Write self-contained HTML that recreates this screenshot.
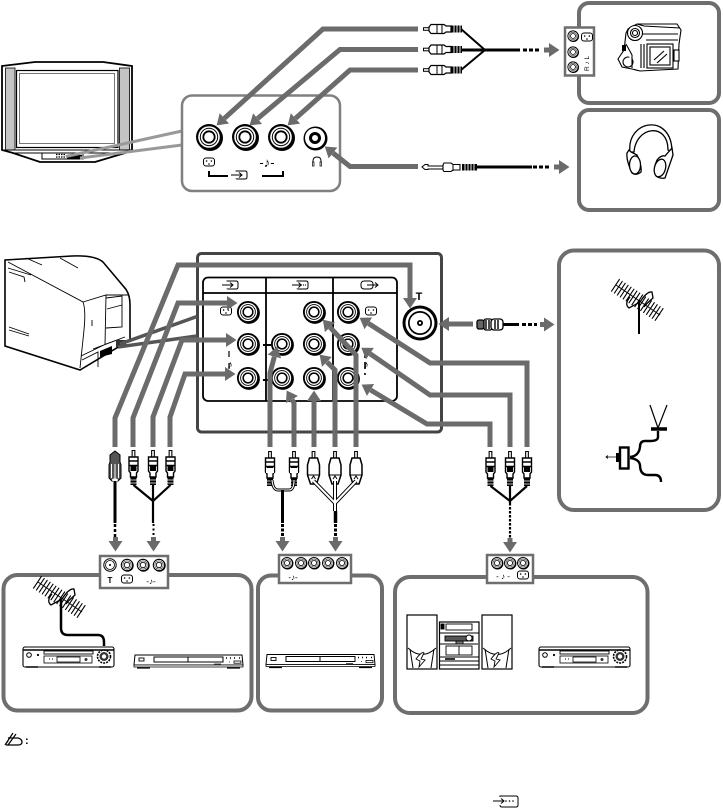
<!DOCTYPE html>
<html><head><meta charset="utf-8"><style>
html,body{margin:0;padding:0;background:#fff}
svg{display:block}
text{font-family:"Liberation Sans","DejaVu Sans",sans-serif}
.g{fill:none;stroke:#6b6b6b;stroke-width:5;marker-end:url(#h)}
.p{fill:#fff;stroke:#6e6e6e;stroke-width:4}
.k{fill:none;stroke:#000;stroke-width:2}
</style></head><body>
<svg width="723" height="809" viewBox="0 0 723 809" xmlns="http://www.w3.org/2000/svg">
<defs>
<marker id="h" markerUnits="userSpaceOnUse" markerWidth="12" markerHeight="16" refX="0" refY="8" orient="auto"><path d="M0,1L10.5,8L0,15z" fill="#6b6b6b"/></marker>
<g id="j"><circle cx="1" cy="1" r="13" fill="#000"/><circle r="13" fill="#000"/><circle r="10.8" fill="#fff"/><circle r="9.2" fill="#000"/><circle r="8.2" fill="#fff"/><circle r="6.6" fill="#000"/><circle r="4.8" fill="#fff"/></g>
<g id="c"><rect x="-5.5" y="-4" width="11" height="8" rx="2.5" fill="#fff" stroke="#000" stroke-width="1"/><circle cx="-2.4" cy="-1" r=".8"/><circle cx="2.4" cy="-1" r=".8"/><circle cx="0" cy="2" r=".8"/></g>
<g id="i" fill="none" stroke="#000" stroke-width="1"><path d="M-8,0H3M0,-2.5L3,0L0,2.5"/><path d="M-3,-3.5V-4H6Q8,-4 8,-2V2Q8,4 6,4H-1Q-3,4 -3,3.5"/></g>
<g id="rh"><path d="M0,0H6" stroke="#000" stroke-width="3.6"/><path d="M1,0H6" stroke="#fff" stroke-width="1.6"/><path d="M8,-4.5H21L23,-3H28V3H23L21,4.5H8L6,2V-2z" fill="#fff" stroke="#000" stroke-width="1.2"/><path d="M14,-4.5V4.5M19,-4.5V4.5" stroke="#000" stroke-width="1"/><rect x="28" y="-3.5" width="11" height="7" fill="#000"/><path d="M31,-3.5V3.5M34,-3.5V3.5M37,-3.5V3.5" stroke="#fff" stroke-width=".9"/></g>
<g id="rv"><path d="M0,0V7" stroke="#000" stroke-width="3.8"/><path d="M0,1V7" stroke="#fff" stroke-width="1.6"/><path d="M-4.5,7H4.5V21L3,23V27H-3V23L-4.5,21z" fill="#fff" stroke="#000" stroke-width="1.4"/><path d="M-4.5,11H4.5M-4.5,15.5H4.5" stroke="#000" stroke-width="1.4"/><rect x="-3" y="16" width="6" height="5" fill="#000"/><rect x="-3" y="27" width="6" height="8" fill="#000"/><path d="M-3,30H3M-3,33H3" stroke="#fff" stroke-width=".8"/></g>
<g id="rw"><path d="M0,0V7" stroke="#000" stroke-width="3.8"/><path d="M0,1V7" stroke="#fff" stroke-width="1.6"/><path d="M-4,7H4L6,14V24L3,33H-3L-6,24V14z" fill="#fff" stroke="#000" stroke-width="1.5"/><path d="M-6,24H6M-2,28L0,25L2,28" stroke="#000" stroke-width="1" fill="none"/></g>
<g id="y"><line x1="-23" y1="-15" x2="22" y2="15" stroke="#000" stroke-width="15" stroke-dasharray="1.100 2.400"/><path d="M-22,-15L22,15" stroke="#000" stroke-width="1"/><path d="M-8,-3Q-14,4 -9,8L2,2Q9,-9 14,-8L15,-2Q8,4 6,7" fill="none" stroke="#000" stroke-width="1.300"/></g>
<g id="vcr"><rect x="0" y="1" width="91" height="20" rx="2" fill="#fff" stroke="#000" stroke-width="1.100"/><path d="M0,4H91" stroke="#000" stroke-width="1.600"/><rect x="21" y="5" width="49" height="3" fill="#fff" stroke="#000" stroke-width=".9"/><rect x="21" y="10" width="48" height="7" fill="#fff" stroke="#000" stroke-width=".8"/><rect x="34" y="11" width="23" height="5" fill="#fff" stroke="#000" stroke-width=".8"/><circle cx="6" cy="9" r="2.300" fill="none" stroke="#000"/><circle cx="15" cy="9" r="1.100"/><circle cx="81" cy="10.500" r="6.500" fill="none" stroke="#000" stroke-width="1.600" stroke-dasharray="2 1"/><circle cx="81" cy="10.500" r="4.500" fill="#333"/><circle cx="81" cy="10.500" r="2.200" fill="#fff"/><circle cx="63" cy="13.500" r="1.500" fill="#333"/><path d="M26,13h1M29,13h1" stroke="#000"/><path d="M3,21h12M76,21h12" stroke="#000" stroke-width="1.400"/></g>
<g id="dvd"><path d="M1,0H108L109,10H0z" fill="#fff" stroke="#000" stroke-width="1"/><path d="M0,10H109V12H0z" fill="#fff" stroke="#000" stroke-width=".8"/><rect x="20" y="2" width="69" height="5" fill="#fff" stroke="#000" stroke-width="1"/><path d="M20,7H89M54,2V7" stroke="#000" stroke-width="1"/><rect x="5" y="3" width="5" height="3" fill="none" stroke="#000" stroke-width=".9"/><path d="M92,3h1M96,3h1M100,3h1M105,3h1" stroke="#000" stroke-width="1.600"/><rect x="100" y="6" width="7" height="2.200" fill="none" stroke="#000" stroke-width=".8"/><path d="M80,9h7M95,7h1" stroke="#555"/><path d="M3,13h13M93,13h13" stroke="#000" stroke-width="1.300"/></g>
<g id="sp"><rect x="0" y="0" width="30" height="54" fill="#fff" stroke="#000" stroke-width="1.200"/><path d="M1,33Q15,46 29,33M3,34L6,53M27,34L24,53" fill="none" stroke="#000"/><path d="M9,44Q15,36 17,38L14,44L18,45L12,52L13,46z" fill="#fff" stroke="#000" stroke-width=".9"/></g>
</defs>

<!-- Front TV -->
<path d="M2,66L35,62H103L132,66V150L125,153L95,162H40L13,153L2,150z" fill="#fff" stroke="#000" stroke-width="1.800"/>
<rect x="5.500" y="68" width="9.500" height="82" fill="#c4c4c4" stroke="#000" stroke-width=".8"/>
<rect x="119.500" y="68" width="10" height="82" fill="#c4c4c4" stroke="#000" stroke-width=".8"/>
<rect x="16.500" y="70.500" width="101.500" height="77" fill="#fff" stroke="#000" stroke-width="1.200"/>
<rect x="19.500" y="73.500" width="95" height="70" fill="#fff" stroke="#555" stroke-width=".8"/>
<path d="M3,150L132,150M13,153H125" stroke="#000" stroke-width="1"/>
<rect x="42" y="153" width="41" height="6" fill="#fff" stroke="#000" stroke-width="1"/><rect x="67" y="155" width="15" height="4"/><path d="M56,154.500h10M56,157h10" stroke="#000" stroke-width="1.200" stroke-dasharray="1.500 1"/>
<path d="M66,156.500L182,131M80,158L182,145" stroke="#999" stroke-width="3" fill="none"/>

<!-- Front panel -->
<rect x="182" y="95.500" width="158" height="95.500" rx="10" fill="#fff" stroke="#808080" stroke-width="2.500"/>
<use href="#j" x="209" y="137"/><use href="#j" x="245" y="137"/><use href="#j" x="281" y="137"/>
<circle cx="315.500" cy="138.500" r="12" fill="#000"/><circle cx="315" cy="138" r="10" fill="#fff"/><circle cx="315" cy="138" r="6" fill="#000"/><circle cx="315" cy="138" r="3" fill="#fff"/>
<use href="#c" x="209" y="162"/>
<text x="267" y="167" font-size="13" text-anchor="middle" font-family="DejaVu Sans">‑♪‑</text>
<path d="M313,166V161Q313,157 317,157Q321,157 321,161V166" fill="none" stroke="#000"/><path d="M312.500,162h1.500v4h-1.500zM320,162h1.500v4h-1.500z" fill="#fff" stroke="#000" stroke-width=".7"/>
<path d="M209,171V176H228M262,176H283V171" class="k"/>
<use href="#i" x="239" y="175"/>

<!-- Top cables -->
<use href="#rh" x="423" y="29"/><use href="#rh" x="423" y="49.500"/><use href="#rh" x="423" y="70"/>
<path d="M461,29L485,50L461,70" fill="none" stroke="#000" stroke-width="2"/>
<path d="M461,50H520" stroke="#000" stroke-width="3"/>
<path d="M523,50H539" stroke="#000" stroke-width="3" stroke-dasharray="4 2"/>
<!-- phone plug -->
<path d="M422,167L425,164.500H428V166H443V169H428V169.500H425z" fill="#fff" stroke="#000" stroke-width="1"/>
<path d="M444,163H451L453,164.500H460V170H453L451,171.500H444L443,170V165z" fill="#fff" stroke="#000" stroke-width="1.100"/>
<path d="M453,164V171" stroke="#000"/>
<rect x="462" y="164" width="15" height="6.500"/><path d="M465,164V170.500M468,164V170.500M471,164V170.500M474,164V170.500" stroke="#fff" stroke-width=".9"/>
<path d="M477,167H532" stroke="#000" stroke-width="3"/>
<path d="M533,167H549" stroke="#000" stroke-width="3" stroke-dasharray="4 2"/>
<line x1="544" y1="50" x2="549" y2="50" class="g"/>
<line x1="554" y1="167" x2="559" y2="167" class="g"/>

<!-- Top right panels -->
<rect x="579" y="3" width="140" height="100" rx="10" class="p"/>
<rect x="579" y="110" width="140" height="100" rx="10" class="p"/>
<rect x="565" y="27.500" width="29" height="48" fill="#fff" stroke="#6e6e6e" stroke-width="2.500"/>
<g transform="translate(573,36) scale(.43)"><use href="#j"/></g><g transform="translate(573,52) scale(.43)"><use href="#j"/></g><g transform="translate(573,67) scale(.43)"><use href="#j"/></g>
<use href="#c" x="587" y="37"/>
<text transform="translate(589,71) rotate(-90)" font-size="6.500" font-family="DejaVu Sans">R ♪ L</text>

<!-- Camcorder -->
<g fill="#fff" stroke="#000" stroke-width="1.100">
<path d="M628,29L637,24H677L681,30L679,44L678,69L640,71L632,69L622,67L618,59L624,50L625,42L626,33z"/>
<circle cx="635" cy="33" r="7.500"/><circle cx="635" cy="33" r="4.500"/><circle cx="635" cy="33" r="2.500"/>
<path d="M644,26L680,28M642,34H678M646,40H678M637,24L644,26"/>
<rect x="647" y="44" width="26" height="24"/><rect x="650" y="47" width="20" height="18"/>
<path d="M654,60L664,51M657,63L667,54"/>
<rect x="674" y="50" width="5" height="11"/>
<circle cx="628" cy="62" r="5"/>
<path d="M641,44V68M644,44V68M626,44L632,55V68"/>
</g>
<rect x="622" y="45" width="4" height="6"/>

<!-- Headphones -->
<g fill="#fff" stroke="#000" stroke-width="1.300">
<path d="M630,152C626,120 672,112 672,152L668,150C668,122 636,126 634,152z"/>
<path d="M629,150L631,152L637,155Q642,166 641,172Q636,176 632,173Q626,160 627,153z"/>
<ellipse cx="635" cy="165" rx="5.500" ry="9"/>
<path d="M672,148L673,155L665,178Q660,179 656,176Q653,168 657,160Q661,155 665,156z"/>
<ellipse cx="660" cy="168" rx="5.500" ry="9" transform="rotate(15 660 168)"/>
</g>

<!-- Gray arrows top -->
<polyline class="g" points="418,29 323,29 224.400,118.300"/>
<polyline class="g" points="418,49.500 340,49.500 257.600,118.600"/>
<polyline class="g" points="418,70 350,70 295.500,118.400"/>
<polyline class="g" points="418,166.500 350,166.500 333,153"/>

<!-- Rear TV -->
<path d="M5,260L72,256Q95,255 103,262L124,287Q130,293 130,305V340L80,370L5,346z" fill="#fff" stroke="#000" stroke-width="1.600"/>
<g fill="none" stroke="#000" stroke-width=".9">
<path d="M8,262L83,302Q86,310 84,330L80,368M83,302L106,295H128M106,295L105,345M8,268L31,275M9,272L24,277L25,282M9,327L29,334M9,330L29,336M26,258L42,265M60,258L78,268M106,298L122,296L122,327L106,328M107,309L122,305M92,320V326"/>
<path d="M81,356L106,344L125,337M82,360L98,352V367M93,349L120,339"/>
</g>
<path d="M100,351l12,-5v8l-12,3z"/><rect x="116" y="340" width="10" height="7" fill="#333"/>

<!-- Rear panel -->
<rect x="197.500" y="253.500" width="244" height="178.500" rx="4" fill="none" stroke="#444" stroke-width="3"/>
<path d="M120,344L197,316.500M118,347L197,336" stroke="#555" stroke-width="3.500" fill="none"/>
<rect x="203" y="277.500" width="194" height="123.500" rx="5" fill="#fff" stroke="#000" stroke-width="1.800"/>
<path d="M203,293H397M266,278V401M333,278V401" stroke="#000" stroke-width="1.800" fill="none"/>
<use href="#i" x="230" y="285"/>
<g fill="none" stroke="#000"><path d="M292,285H301M298.500,282.500L301,285L298.500,287.500"/><path d="M297,281.500V281H306Q308,281 308,283V287Q308,289 306,289H299Q297,289 297,288.500"/></g>
<circle cx="301.500" cy="285" r=".6"/><circle cx="303.500" cy="285" r=".6"/><circle cx="305.500" cy="285" r=".6"/>
<g fill="none" stroke="#000"><rect x="361" y="281" width="12" height="8" rx="3"/><path d="M367,285H378M375,282.500L378,285L375,287.500"/></g>
<use href="#c" x="226" y="311"/><use href="#c" x="371" y="311"/>
<g transform="translate(248,312) scale(.85)"><use href="#j"/></g><g transform="translate(248,344) scale(.85)"><use href="#j"/></g><g transform="translate(248,378) scale(.85)"><use href="#j"/></g>
<g transform="translate(282,344) scale(.85)"><use href="#j"/></g><g transform="translate(282,378) scale(.85)"><use href="#j"/></g>
<g transform="translate(314,312) scale(.85)"><use href="#j"/></g><g transform="translate(314,344) scale(.85)"><use href="#j"/></g><g transform="translate(314,378) scale(.85)"><use href="#j"/></g>
<g transform="translate(348,312) scale(.85)"><use href="#j"/></g><g transform="translate(348,344) scale(.85)"><use href="#j"/></g><g transform="translate(348,378) scale(.85)"><use href="#j"/></g>
<path d="M263,345H271M263,380H271" stroke="#000" stroke-width="2"/>
<path d="M229,351V375" stroke="#000" stroke-width="1.200" stroke-dasharray="6 6"/>
<text x="230" y="368" font-size="11" text-anchor="middle" font-family="DejaVu Sans">♪</text>
<path d="M365,351V375" stroke="#000" stroke-width="1.600" stroke-dasharray="7 4"/>
<text x="366" y="368" font-size="11" text-anchor="middle" font-family="DejaVu Sans">♪</text>
<text x="419" y="300" font-size="11" font-weight="bold" text-anchor="middle">T</text>
<circle cx="420" cy="323" r="17.500" fill="#000"/><circle cx="420" cy="323" r="14.500" fill="#fff"/><circle cx="420" cy="323" r="12" fill="#000"/><circle cx="420" cy="323" r="10.300" fill="#fff"/><circle cx="420" cy="323" r="3" fill="#000"/><circle cx="420" cy="323" r="1.200" fill="#fff"/>

<!-- Gray arrows rear -->
<polyline class="g" points="115,447 115,418 178,265 410,265 410,298"/>
<polyline class="g" points="133,447 133,418 178,303 227,303"/>
<polyline class="g" points="153,447 153,417 182,340 226,340"/>
<polyline class="g" points="170,447 170,417 185,374 225,374"/>
<polyline class="g" points="270,447 270,373 274.400,356.600"/>
<polyline class="g" points="294,447 294,403 292,399.600"/>
<polyline class="g" points="314,447 314,401"/>
<polyline class="g" points="335,447 335,370 327,362"/>
<polyline class="g" points="356,447 356,355 330,327.300"/>
<polyline class="g" points="527,447 527,363 430,363 368.400,323.400"/>
<polyline class="g" points="510,447 510,395 430,395 370,353.700"/>
<polyline class="g" points="490,447 490,424 427,424 370.600,390"/>
<line class="g" x1="473" y1="324" x2="449" y2="324"/>

<!-- Coax plug right -->
<g fill="#fff" stroke="#000" stroke-width="1.300"><rect x="477" y="320" width="7" height="9" rx="2" fill="#666"/><rect x="484" y="319" width="8" height="11" rx="2"/><rect x="491" y="319" width="12" height="11" rx="3"/></g>
<path d="M486,320v9M489,320v9M495,320v9M498,320v9" stroke="#000" stroke-width="1.400"/>
<path d="M503,324.500H519" stroke="#000" stroke-width="3"/>
<path d="M522,324.500H537" stroke="#000" stroke-width="3" stroke-dasharray="4 2"/>
<line class="g" x1="540" y1="324.500" x2="544" y2="324.500"/>

<!-- Right antenna panel -->
<rect x="559" y="250.500" width="160" height="259.500" rx="15" class="p"/>
<use href="#y" x="638" y="300"/>
<path d="M639,300V334" stroke="#000" stroke-width="2"/>
<path d="M650,405L658,428L667,405" fill="none" stroke="#000" stroke-width="1.200"/>
<path d="M651,429H667" stroke="#000" stroke-width="3.500"/>
<path d="M658,431V437Q658,441 650,441H645Q640,441 640,447Q639,456 630,457M630,458Q639,459 640,465Q640,475 648,475H655Q661,475 661,482" fill="none" stroke="#000" stroke-width="2.400"/>
<rect x="620" y="447.500" width="8.500" height="21" fill="#fff" stroke="#000" stroke-width="2.400"/>
<rect x="616" y="453" width="4" height="9"/>
<path d="M606,457H616M608,455.500L606,457L608,458.500" stroke="#000" stroke-width=".8" fill="none"/>

<!-- Plugs bottom row -->
<path d="M115,451l5,4v7l1,3v13l-3,3h-6l-3,-3v-13l1,-3v-7z" fill="#555" stroke="#000"/>
<path d="M111.500,464v14M115,464v15M118.500,464v14" stroke="#fff" stroke-width="1"/>
<ellipse cx="115" cy="480" rx="3" ry="1.600" fill="#fff"/>
<path d="M115,481V523" stroke="#000" stroke-width="3"/>
<path d="M115,524V537" stroke="#000" stroke-width="2.500" stroke-dasharray="3 2"/>
<use href="#rv" x="133.500" y="450"/><use href="#rv" x="153" y="450"/><use href="#rv" x="170.500" y="450"/>
<path d="M133.500,485L153,501L170.500,485M153,485V523" fill="none" stroke="#000" stroke-width="2.200"/>
<path d="M153.500,524V537" stroke="#000" stroke-width="2" stroke-dasharray="2 2.500"/>
<use href="#rv" x="270" y="451"/><use href="#rv" x="294" y="451"/>
<rect x="266" y="468" width="8" height="5" fill="#fff"/><rect x="290" y="468" width="8" height="5" fill="#fff"/>
<path d="M272,480Q273,490 278,490H289Q294,490 294,480" fill="none" stroke="#000" stroke-width="3"/>
<path d="M272,480Q273,490 278,490H289Q294,490 294,480" fill="none" stroke="#fff" stroke-width="1.100"/>
<path d="M282.500,490V523" stroke="#000" stroke-width="3"/>
<path d="M282.500,524V537" stroke="#000" stroke-width="3" stroke-dasharray="3 1.500"/>
<use href="#rw" x="313.500" y="451"/><use href="#rw" x="335" y="451"/><use href="#rw" x="356" y="451"/>
<path d="M313.500,481L335,503L356,481M335,481V511" fill="none" stroke="#000" stroke-width="4"/>
<path d="M313.500,481L335,503L356,481M335,481V511" fill="none" stroke="#fff" stroke-width="2"/>
<path d="M335.500,511V523" stroke="#000" stroke-width="3.500"/>
<path d="M335.500,524V537" stroke="#000" stroke-width="3" stroke-dasharray="3 1.500"/>
<use href="#rv" x="490.500" y="451"/><use href="#rv" x="510" y="451"/><use href="#rv" x="527" y="451"/>
<path d="M490.500,486L510,501L527,486M510,486V503" fill="none" stroke="#000" stroke-width="2.200"/>
<path d="M510,503V538" stroke="#000" stroke-width="2.200" stroke-dasharray="2.500 1.500"/>
<line class="g" x1="115.500" y1="537" x2="115.500" y2="541"/>
<line class="g" x1="153.500" y1="537" x2="153.500" y2="541"/>
<line class="g" x1="282.500" y1="537" x2="282.500" y2="541"/>
<line class="g" x1="335.500" y1="537" x2="335.500" y2="541"/>
<line class="g" x1="510" y1="538" x2="510" y2="542"/>

<!-- Bottom panels -->
<rect x="3.500" y="575" width="248" height="135.500" rx="14" class="p"/>
<rect x="258" y="575.500" width="124" height="135" rx="13" class="p"/>
<rect x="395" y="577" width="252.500" height="136" rx="15" class="p"/>
<rect x="100" y="556" width="68" height="32" fill="#fff" stroke="#6e6e6e" stroke-width="2.500"/>
<rect x="279" y="555" width="72" height="28" fill="#fff" stroke="#6e6e6e" stroke-width="2.500"/>
<rect x="487" y="555" width="46" height="28" fill="#fff" stroke="#6e6e6e" stroke-width="2.500"/>
<circle cx="110" cy="565" r="6.200" fill="#fff" stroke="#000" stroke-width="1"/><circle cx="110" cy="565" r="4.500" fill="#fff" stroke="#000" stroke-width=".8"/><circle cx="110" cy="565" r="1"/>
<g transform="translate(127,565) scale(.48)"><use href="#j"/></g><g transform="translate(143,565) scale(.48)"><use href="#j"/></g><g transform="translate(159,565) scale(.48)"><use href="#j"/></g>
<g transform="translate(287,563) scale(.46)"><use href="#j"/></g><g transform="translate(301,563) scale(.46)"><use href="#j"/></g><g transform="translate(314,563) scale(.46)"><use href="#j"/></g><g transform="translate(328,563) scale(.46)"><use href="#j"/></g><g transform="translate(342,563) scale(.46)"><use href="#j"/></g>
<g transform="translate(497,563) scale(.46)"><use href="#j"/></g><g transform="translate(510,563) scale(.46)"><use href="#j"/></g><g transform="translate(523,563) scale(.46)"><use href="#j"/></g>
<text x="110" y="583" font-size="8" font-weight="bold" text-anchor="middle">T</text>
<use href="#c" x="127" y="579"/>
<text x="151" y="584" font-size="8" text-anchor="middle" font-family="DejaVu Sans">-♪-</text>
<text x="293" y="580" font-size="8" text-anchor="middle" font-family="DejaVu Sans">-♪-</text>
<text x="503" y="579" font-size="8" text-anchor="middle" font-family="DejaVu Sans">- ♪ -</text>
<use href="#c" x="523" y="575"/>

<!-- Devices -->
<use href="#y" x="60" y="597"/>
<path d="M61,600V628Q61,635 68,635H98Q104,635 104,642V646" fill="none" stroke="#000" stroke-width="2.500"/>
<use href="#vcr" x="23" y="646"/>
<use href="#dvd" x="134" y="655"/>
<use href="#dvd" x="266" y="654.500"/>
<use href="#sp" x="407" y="615"/><use href="#sp" x="482" y="615"/>
<rect x="439.500" y="622" width="39.500" height="47" fill="#fff" stroke="#000" stroke-width="1.200"/>
<g stroke="#000" fill="none" stroke-width=".9"><rect x="446" y="624" width="26" height="6"/><path d="M440,633H479"/><rect x="445" y="636" width="28" height="5" fill="#555"/><circle cx="469" cy="638" r="3" fill="#fff"/><rect x="446" y="646" width="26" height="9"/><path d="M459,646V655M440,644H478M440,657H479M440,661H479M440,665H479"/><rect x="441" y="624" width="3" height="5" fill="#000"/><rect x="456" y="641" width="7" height="3" fill="#777"/><path d="M445,659h10" stroke-width="1.600"/></g>
<use href="#vcr" x="539" y="646"/>

<!-- Note icon -->
<g fill="none" stroke="#000" stroke-width="1.200"><path d="M5,745L13,733M8,745L16,734M5,745L8,741"/><path d="M8,738H18Q22,739 22,742Q22,745 18,745H6" stroke-width="1.300"/></g>
<text x="25" y="744" font-size="11" font-weight="bold">:</text>

<!-- Bottom icon -->
<g fill="none" stroke="#000" stroke-width="1"><path d="M493,801H504M501,798.500L504,801L501,803.500"/><path d="M500,797V796H516Q518,796 518,798V805Q518,807 516,807H502Q500,807 500,805"/></g>
<circle cx="506" cy="801" r=".8"/><circle cx="509.500" cy="801" r=".8"/><circle cx="513" cy="801" r=".8"/>
</svg>
</body></html>
